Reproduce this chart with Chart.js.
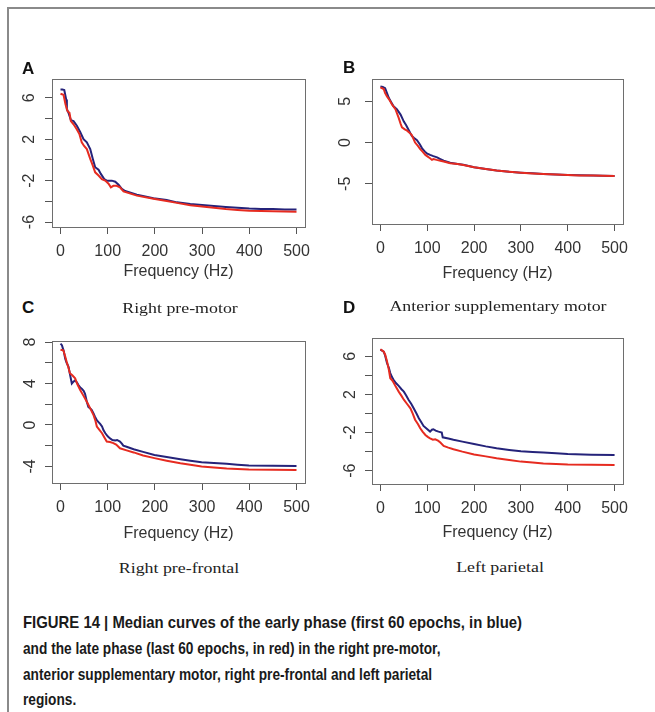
<!DOCTYPE html>
<html><head><meta charset="utf-8">
<script src="https://cdn.jsdelivr.net/npm/chart.js@4.4.1/dist/chart.umd.min.js"></script>
<style>
html,body{margin:0;padding:0;background:#fff;}
body{width:655px;height:712px;position:relative;overflow:hidden;}
#frame{position:absolute;left:7px;top:7px;width:700px;height:760px;border-top:2px solid #8a8a8a;border-left:2px solid #8a8a8a;}
canvas{position:absolute;}
.letter{position:absolute;font:bold 17px 'Liberation Sans',Arial,sans-serif;color:#111;line-height:17px;}
.sub{position:absolute;font:15px 'Liberation Serif','Times New Roman',serif;color:#222;white-space:nowrap;line-height:15px;transform:translateX(-50%) scaleX(1.19);}
.cap{position:absolute;left:23px;font:bold 17px 'Liberation Sans',Arial,sans-serif;color:#1a1a1a;white-space:nowrap;line-height:25.8px;transform-origin:0 0;}
#cap1{top:610px;transform:scaleX(0.876);}
#cap2{top:635.8px;transform:scaleX(0.805);}
</style>
</head><body>
<div id="frame"></div>
<div id="charts"></div>
<div class="letter" style="left:22px;top:59.6px">A</div>
<div class="letter" style="left:343px;top:58.6px">B</div>
<div class="letter" style="left:22px;top:298.6px">C</div>
<div class="letter" style="left:343px;top:298.6px">D</div>
<div class="sub" style="left:180px;top:300.7px">Right pre-motor</div>
<div class="sub" style="left:498px;top:299.4px">Anterior supplementary motor</div>
<div class="sub" style="left:179px;top:560.7px">Right pre-frontal</div>
<div class="sub" style="left:500px;top:560.4px">Left parietal</div>
<div class="cap" id="cap1">FIGURE 14 | Median curves of the early phase (first 60 epochs, in blue)</div>
<div class="cap" id="cap2">and the late phase (last 60 epochs, in red) in the right pre-motor,<br>anterior supplementary motor, right pre-frontal and left parietal<br>regions.</div>
<script>
// ---- tick values ----
const xTickVals = [0, 100, 200, 300, 400, 500];
const yTicksA = [-6, -4, -2, 0, 2, 4, 6];
const yLabelsA = [-6, -2, 2, 6];
const yTicksB = [-5, 0, 5];
const yLabelsB = [-5, 0, 5];
const yTicksC = [-4, -2, 0, 2, 4, 6, 8];
const yLabelsC = [-4, 0, 4, 8];
const yTicksD = [-6, -4, -2, 0, 2, 4, 6];
const yLabelsD = [-6, -2, 2, 6];

// ---- A: Right pre-motor ----
const freqA_early = [0,4,8,12,13.5,17,22,27.6,34.7,41.7,48.8,55.8,63,68.5,73.5,80.6,85.5,92.6,98,108.8,116,123,130,137,161.8,197,225,246.6,275,300,325,350,375,400,425,450,475,500];
const powA_early  = [6.8,6.8,6.75,5.85,4.9,4.55,3.85,3.75,3.3,2.7,2.0,1.7,1.05,0.1,-0.7,-0.95,-1.35,-1.85,-2.0,-2.0,-2.1,-2.4,-2.8,-3.0,-3.35,-3.7,-3.88,-4.1,-4.25,-4.35,-4.45,-4.55,-4.63,-4.7,-4.73,-4.75,-4.78,-4.8];
const freqA_late  = [0,6.4,10.7,15,19,22,27.6,34.7,40,45,50,55.8,63,68.5,73.5,80.6,87.6,94.7,101.8,106.7,112,119,126,133.5,161.8,197,225,246.6,275,300,325,350,375,400,425,450,475,500];
const powA_late   = [6.4,6.3,5.35,4.7,4.55,3.75,3.45,2.95,2.5,1.7,1.35,1.05,0.1,-0.55,-1.2,-1.5,-1.85,-2.0,-2.3,-2.65,-2.5,-2.5,-2.65,-3.05,-3.45,-3.75,-3.97,-4.15,-4.38,-4.5,-4.63,-4.75,-4.83,-4.9,-4.94,-4.97,-4.99,-5.0];

// ---- B: Anterior supplementary motor ----
const freqB_early = [0,5,10,14,18,23,28,35,43,50,55,60,67,72,78,84,89,95,99,106,113,121,128,135,149,165,177,200,225,248,275,300,325,348,375,400,425,454,475,500];
const powB_early  = [6.8,6.75,6.6,6.0,5.4,4.9,4.4,4.05,3.4,2.55,2.1,1.55,0.8,0.55,0.3,-0.2,-0.7,-1.1,-1.3,-1.5,-1.65,-1.8,-2.0,-2.2,-2.45,-2.6,-2.7,-3.0,-3.2,-3.4,-3.55,-3.65,-3.73,-3.8,-3.88,-3.93,-3.97,-4.0,-4.03,-4.05];
const freqB_late  = [0,7,10,14,20,25,32,39,43,46,52,57,62,67,74,80,85,90,96,101,106,110,113,120,128,135,149,165,177,200,225,248,275,300,325,348,375,400,425,454,475,500];
const powB_late   = [6.7,6.5,6.0,5.6,5.1,4.6,4.05,3.0,2.3,1.85,1.6,1.45,1.2,0.9,0.0,-0.4,-0.8,-1.1,-1.5,-1.7,-1.9,-2.1,-2.0,-2.1,-2.2,-2.3,-2.5,-2.6,-2.72,-3.0,-3.2,-3.4,-3.55,-3.66,-3.74,-3.81,-3.88,-3.94,-3.98,-4.01,-4.04,-4.06];

// ---- C: Right pre-frontal ----
const freqC_early = [0,3,7,10,13,17,20,24,28,31,35,38,42,45,49,52,56,59,63,66,70,73,77,80,84,88,91,95,100,105,110,116,120,126,130,133,140,155,175,199,225,254,275,299,325,352,375,399,450,500];
const powC_early  = [7.85,7.7,7.1,6.4,6.0,5.6,4.9,4.0,4.2,4.3,4.1,3.85,3.6,3.5,3.3,3.0,2.2,1.75,1.6,1.45,1.1,0.8,0.45,0.3,0.1,-0.15,-0.5,-0.8,-1.1,-1.3,-1.45,-1.5,-1.45,-1.6,-1.8,-2.0,-2.1,-2.35,-2.6,-2.9,-3.1,-3.3,-3.45,-3.6,-3.68,-3.75,-3.83,-3.9,-3.93,-3.95];
const freqC_late  = [0,6,10,13,17,20,25,31,36,42,47,52,58,63,70,74,77,82,88,93,98,105,112,118,126,140,155,175,199,225,254,275,299,325,352,375,399,450,500];
const powC_late   = [7.25,7.2,6.6,6.1,5.5,5.0,4.8,4.5,3.9,3.35,2.95,2.55,2.05,1.6,0.95,0.4,-0.15,-0.45,-0.8,-1.2,-1.6,-1.65,-1.75,-1.9,-2.25,-2.45,-2.65,-2.95,-3.2,-3.45,-3.7,-3.85,-4.0,-4.1,-4.2,-4.25,-4.3,-4.33,-4.35];

// ---- D: Left parietal ----
const freqD_early = [0,7,10,14,18,21,25,28,33,39,45,50,55,60,66,71,77,82,87,92,99,106,110,113,118,124,131,133,145,156,175,200,225,248,275,300,325,348,375,400,450,500];
const powD_early  = [6.7,6.5,6.1,5.3,4.8,4.25,3.8,3.55,3.2,2.9,2.55,2.3,1.9,1.45,1.0,0.55,0.0,-0.5,-0.9,-1.3,-1.6,-1.9,-1.7,-1.65,-1.8,-1.9,-2.0,-2.5,-2.62,-2.75,-2.95,-3.2,-3.45,-3.65,-3.82,-3.95,-4.03,-4.1,-4.18,-4.25,-4.32,-4.35];
const freqD_late  = [0,7,10,14,18,21,25,28,33,39,45,50,57,64,69,74,80,85,90,96,101,106,112,117,123,128,135,145,156,175,200,225,248,275,300,325,348,375,400,450,500];
const powD_late   = [6.75,6.5,6.2,5.5,4.6,3.7,3.5,3.25,2.8,2.3,1.85,1.45,1.0,0.55,0.0,-0.65,-1.1,-1.55,-1.9,-2.25,-2.45,-2.6,-2.75,-2.7,-2.85,-3.05,-3.4,-3.58,-3.75,-4.0,-4.3,-4.5,-4.7,-4.88,-5.05,-5.15,-5.25,-5.3,-5.35,-5.38,-5.4];

const EARLY_COLOR = '#25237a';
const LATE_COLOR = '#e62b20';
const FONT = "'Liberation Sans', Arial, Helvetica, sans-serif";

const boxPlugin = {
  id: 'rbox',
  afterDraw(chart) {
    const {ctx, chartArea: a} = chart;
    ctx.save();
    ctx.strokeStyle = '#6e6e6e';
    ctx.lineWidth = 1;
    ctx.strokeRect(Math.round(a.left) + 0.5, Math.round(a.top) + 0.5, Math.round(a.right - a.left), Math.round(a.bottom - a.top));
    ctx.restore();
  }
};

function pts(f, v) { return f.map((x, i) => ({x: x, y: v[i]})); }

function makePanel(p) {
  const c = document.createElement('canvas');
  c.width = p.canvas[2]; c.height = p.canvas[3];
  c.style.left = p.canvas[0] + 'px'; c.style.top = p.canvas[1] + 'px';
  document.getElementById('charts').appendChild(c);
  const yW = p.box[0] - p.canvas[0];
  const padTop = p.box[1] - p.canvas[1];
  const padRight = p.canvas[0] + p.canvas[2] - p.box[2];
  const xH = p.canvas[1] + p.canvas[3] - p.box[3];
  new Chart(c, {
    type: 'line',
    data: {
      datasets: [
        {data: pts(p.lateF, p.lateV), borderColor: LATE_COLOR, borderWidth: 2, pointRadius: 0, tension: 0, fill: false},
        {data: pts(p.earlyF, p.earlyV), borderColor: EARLY_COLOR, borderWidth: 2, pointRadius: 0, tension: 0, fill: false}
      ]
    },
    options: {
      responsive: false, animation: false, devicePixelRatio: 1,
      layout: {padding: {left: 0, top: padTop, right: padRight, bottom: 0}},
      plugins: {legend: {display: false}, tooltip: {enabled: false}},
      scales: {
        x: {
          type: 'linear', min: p.xMin, max: p.xMax,
          afterBuildTicks: s => { s.ticks = xTickVals.map(v => ({value: v})); },
          afterFit: s => { s.height = xH; },
          border: {display: false},
          grid: {drawOnChartArea: false, drawTicks: true, tickLength: 7, color: '#555', lineWidth: 1},
          ticks: {autoSkip: false, maxRotation: 0, minRotation: 0, padding: 8, color: '#333', font: {family: FONT, size: 16}},
          title: {display: true, text: 'Frequency (Hz)', color: '#333', font: {family: FONT, size: 16}, padding: {top: 0, bottom: p.titlePad}}
        },
        y: {
          type: 'linear', min: p.yMin, max: p.yMax,
          afterBuildTicks: s => { s.ticks = p.yTicks.map(v => ({value: v})); },
          afterFit: s => { s.width = yW; },
          border: {display: false},
          grid: {drawOnChartArea: false, drawTicks: true, tickLength: 7, color: '#555', lineWidth: 1},
          ticks: {
            autoSkip: false, minRotation: 90, maxRotation: 90, crossAlign: 'center', padding: p.yPad,
            color: '#333', font: {family: FONT, size: 16},
            callback: v => (p.yLabels.indexOf(v) >= 0 ? String(v) : '')
          }
        }
      }
    },
    plugins: [boxPlugin]
  });
}

makePanel({canvas: [10, 57, 315, 233], box: [52, 79, 305, 227], xMin: -18, xMax: 518, yMin: -6.48, yMax: 7.82,
  yTicks: yTicksA, yLabels: yLabelsA, yPad: 8, titlePad: 8.4,
  earlyF: freqA_early, earlyV: powA_early, lateF: freqA_late, lateV: powA_late});
makePanel({canvas: [328, 57, 317, 233], box: [372, 79, 623, 224], xMin: -18, xMax: 518, yMin: -9.88, yMax: 7.69,
  yTicks: yTicksB, yLabels: yLabelsB, yPad: 12.6, titlePad: 6.4,
  earlyF: freqB_early, earlyV: powB_early, lateF: freqB_late, lateV: powB_late});
makePanel({canvas: [10, 318, 315, 232], box: [52, 341, 305, 483], xMin: -18, xMax: 518, yMin: -5.6, yMax: 8.1,
  yTicks: yTicksC, yLabels: yLabelsC, yPad: 6.8, titlePad: 6.4,
  earlyF: freqC_early, earlyV: powC_early, lateF: freqC_late, lateV: powC_late});
makePanel({canvas: [328, 316, 317, 234], box: [372, 338, 623, 484], xMin: -18, xMax: 518, yMin: -7.4, yMax: 7.93,
  yTicks: yTicksD, yLabels: yLabelsD, yPad: 7.6, titlePad: 7.4,
  earlyF: freqD_early, earlyV: powD_early, lateF: freqD_late, lateV: powD_late});
</script>
</body></html>
